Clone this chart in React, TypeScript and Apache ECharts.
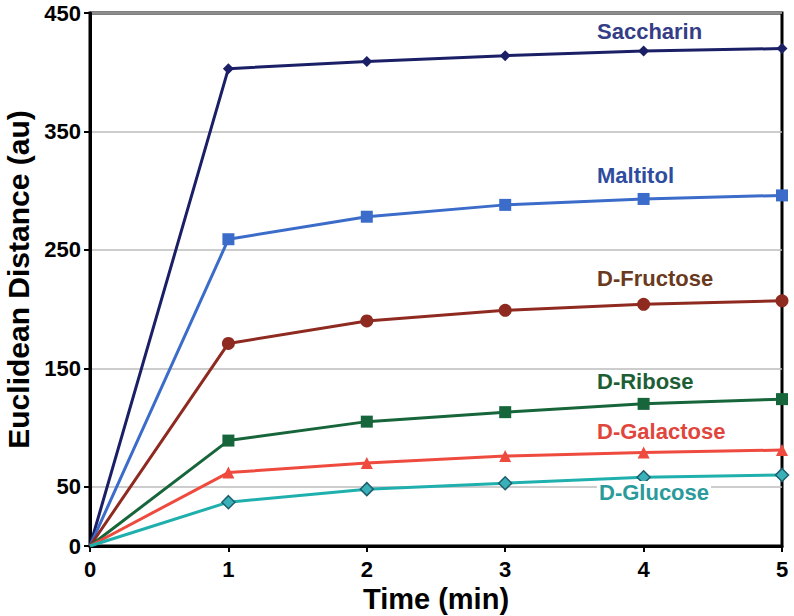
import React, { useEffect, useRef } from "react";
import * as echarts from "echarts";

const times = [0, 1, 2, 3, 4, 5];
const saccharin = [0, 403, 409, 414, 418, 420];
const maltitol = [0, 259, 278, 288, 293, 296];
const fructose = [0, 171, 190, 199, 204, 207];
const ribose = [0, 89, 105, 113, 120, 124];
const galactose = [0, 62, 70, 76, 79, 81];
const glucose = [0, 37, 48, 53, 58, 60];
const yTickValues = [0, 50, 150, 250, 350, 450];
const xTickValues = [0, 1, 2, 3, 4, 5];

const seriesNames = ["Saccharin", "Maltitol", "D-Fructose", "D-Ribose", "D-Galactose", "D-Glucose"];
const seriesValues = [saccharin, maltitol, fructose, ribose, galactose, glucose];
const lineColors = ["#1b1f66", "#3b6cc9", "#8e2a20", "#17653a", "#ee4a3e", "#1fb0ae"];
const labelColors = ["#353d86", "#2e4d9e", "#6a3a20", "#1d5e35", "#e0463c", "#2a9a9a"];
const symbols = ["diamond", "rect", "circle", "rect", "triangle", "diamond"];
const symbolSizes = [11, 12, 13, 12, 12, 13];
const labelY = [33, 177, 280, 383, 433, 494];

const FONT = "'Liberation Sans', Arial, sans-serif";

export default function App() {
  const ref = useRef<HTMLDivElement>(null);
  useEffect(() => {
    const chart = echarts.init(ref.current!, null, { renderer: "svg" });
    const series: any[] = seriesNames.map((name, i) => ({
      name,
      type: "line",
      data: times.map((t, j) =>
        j === 0 ? { value: [t, seriesValues[i][j]], symbol: "none" } : [t, seriesValues[i][j]]
      ),
      showSymbol: true,
      symbol: symbols[i],
      symbolSize: symbolSizes[i],
      lineStyle: { color: lineColors[i], width: 3 },
      itemStyle: {
        color: i === 5 ? "#3ab0b8" : lineColors[i],
        borderColor: i === 5 ? "#1d5e6e" : lineColors[i],
        borderWidth: i === 5 ? 1.5 : 0,
      },
      z: 3,
    }));
    const graphics = seriesNames.map((name, i) => ({
      type: "text",
      left: 597,
      top: labelY[i] - 13,
      z: 10,
      style: {
        text: name,
        fill: labelColors[i],
        font: `bold 22px ${FONT}`,
        backgroundColor: i === 5 ? "#ffffff" : undefined,
        padding: i === 5 ? [0, 2] : 0,
      },
    }));
    chart.setOption({
      animation: false,
      backgroundColor: "#ffffff",
      grid: {
        left: 90,
        right: 12,
        top: 13,
        bottom: 70,
        show: true,
        borderColor: "#000",
        borderWidth: 3,
        containLabel: false,
        outerBoundsMode: "none",
      },
      xAxis: {
        type: "value",
        min: 0,
        max: 5,
        interval: 1,
        name: "Time (min)",
        nameLocation: "middle",
        nameGap: 32,
        nameTextStyle: { fontFamily: FONT, fontWeight: "bold", fontSize: 29, color: "#000" },
        axisLine: { show: true, lineStyle: { color: "#000", width: 3 } },
        axisTick: { show: true, length: 6, lineStyle: { color: "#000", width: 2 }, customValues: xTickValues },
        axisLabel: { customValues: xTickValues, margin: 12, fontFamily: FONT, fontWeight: "bold", fontSize: 22, color: "#000" },
        splitLine: { show: false },
      },
      yAxis: [
        {
          type: "value",
          min: 0,
          max: 450,
          name: "Euclidean Distance (au)",
          nameLocation: "middle",
          nameGap: 57,
          nameTextStyle: { fontFamily: FONT, fontWeight: "bold", fontSize: 30, color: "#000" },
          axisLine: { show: true, lineStyle: { color: "#000", width: 3 } },
          axisTick: { show: true, length: 6, lineStyle: { color: "#000", width: 2 }, customValues: yTickValues },
          axisLabel: { customValues: yTickValues, margin: 9, fontFamily: FONT, fontWeight: "bold", fontSize: 22, color: "#000" },
          splitLine: { show: false },
        },
        {
          type: "value",
          min: 0,
          max: 450,
          interval: 50,
          position: "left",
          axisLine: { show: false },
          axisTick: { show: false },
          axisLabel: { show: false },
          splitLine: {
            show: true,
            showMinLine: true,
            showMaxLine: true,
            lineStyle: { color: ["rgba(0,0,0,0)", "#bdbdbd"], width: 1.5 },
          },
        },
      ],
      series,
      graphic: graphics,
    });
    return () => chart.dispose();
  }, []);
  return <div ref={ref} style={{ position: "absolute", left: 0, top: 0, width: 794, height: 616 }} />;
}
